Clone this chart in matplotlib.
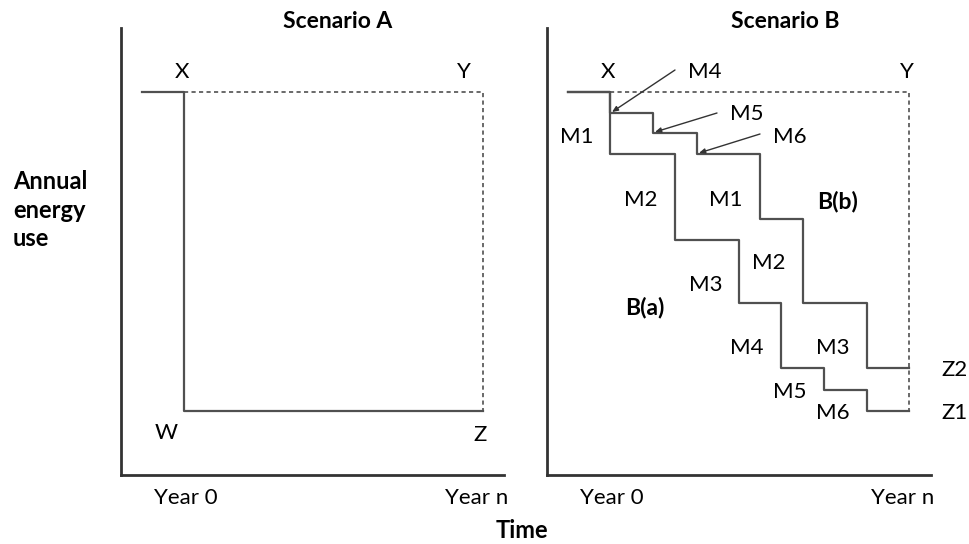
import matplotlib.pyplot as plt

plt.rcParams['font.family'] = ['Lato', 'DejaVu Sans']

# schematic units: time runs left to right, energy use bottom to top
year0 = 63
year_n = 362
pre_start = 21
baseline = 383

# scenario A: one deep retrofit at year 0
level_a = 64

# scenario B(a): all measures M1..M6 in sequence
steps_a_time = [pre_start, 63, 128, 192, 234, 277, 320, 362]
steps_a_energy = [383, 321, 235, 172, 107, 85, 64, 64]
labels_a = ["M1", "M2", "M3", "M4", "M5", "M6"]

# scenario B(b): small measures M4..M6 first, then M1..M3
steps_b_time = [pre_start, 63, 106, 150, 213, 256, 320, 362]
steps_b_energy = [383, 362, 342, 321, 256, 172, 107, 107]
labels_b = ["M4", "M5", "M6", "M1", "M2", "M3"]

line_col = "#505050"
axis_col = "#333333"
fs = 16
fs_bold = 16.5

fig = plt.figure(figsize=(9.7, 5.44), dpi=100)
axA = fig.add_axes([121 / 970, 69 / 544, 383 / 970, 447 / 544])
axB = fig.add_axes([547 / 970, 69 / 544, 384 / 970, 447 / 544])

for ax in (axA, axB):
    ax.set_xlim(0, ax is axA and 383 or 384)
    ax.set_ylim(0, 447)
    for s in ("top", "right"):
        ax.spines[s].set_visible(False)
    for s in ("left", "bottom"):
        ax.spines[s].set_color(axis_col)
        ax.spines[s].set_linewidth(2)
    ax.set_xticks([])
    ax.set_yticks([])
    ax.patch.set_alpha(0)
    ax.text(year0 + 2, -23, "Year 0", ha="center", va="center", fontsize=fs)
    ax.text(year_n - 6, -23, "Year n", ha="center", va="center", fontsize=fs)
    ax.text(year0 - 2, baseline + 20, "X", ha="center", va="center", fontsize=fs)
    # dashed reference: no intervention
    ax.plot([year0, year_n, year_n], [baseline, baseline, level_a], ls=(0, (2.5, 2)),
            color=line_col, lw=1.2)

# Scenario A
axA.plot([pre_start, year0, year0, year_n], [baseline, baseline, level_a, level_a],
         color=line_col, lw=1.6)
axA.text(year_n - 19, baseline + 20, "Y", ha="center", va="center", fontsize=fs)
axA.text(year0 - 18, level_a - 22, "W", ha="center", va="center", fontsize=fs)
axA.text(year_n - 3, level_a - 24, "Z", ha="center", va="center", fontsize=fs)

# Scenario B
axB.step(steps_a_time, steps_a_energy, where="post", color=line_col, lw=1.6)
axB.step(steps_b_time, steps_b_energy, where="post", color=line_col, lw=1.6)
axB.text(year_n - 2, baseline + 20, "Y", ha="center", va="center", fontsize=fs)
axB.text(year_n + 46, steps_b_energy[-1] - 2, "Z2", ha="center", va="center", fontsize=fs)
axB.text(year_n + 46, steps_a_energy[-1] - 2, "Z1", ha="center", va="center", fontsize=fs)

# B(a) measure labels
pos_a = [(30, 338), (94, 275), (159, 190), (200, 127), (243, 83), (286, 62)]
for lab, (x, y) in zip(labels_a, pos_a):
    axB.text(x, y, lab, ha="center", va="center", fontsize=fs)

# B(b) labels: first three via arrows
arrow_from = [(128, 405), (170, 362), (213, 341)]
arrow_txt = [(158, 403), (200, 361), (243, 338)]
for i in range(3):
    tx = steps_b_time[i + 1] + 2
    ty = steps_b_energy[i + 1] + 1
    axB.annotate("", xy=(tx, ty), xytext=arrow_from[i],
                 arrowprops=dict(arrowstyle="-|>,head_length=0.35,head_width=0.15",
                                 color="#333333", lw=1, shrinkA=0, shrinkB=0))
    axB.text(arrow_txt[i][0], arrow_txt[i][1], labels_b[i], ha="center", va="center", fontsize=fs)
pos_b = [(179, 275), (222, 212), (286, 127)]
for lab, (x, y) in zip(labels_b[3:], pos_b):
    axB.text(x, y, lab, ha="center", va="center", fontsize=fs)

axB.text(291, 273, "B(b)", ha="center", va="center", fontsize=fs_bold, fontweight="bold")
axB.text(98, 168, "B(a)", ha="center", va="center", fontsize=fs_bold, fontweight="bold")

fig.text(338 / 970, 1 - 22 / 544, "Scenario A", ha="center", va="center", fontsize=fs_bold, fontweight="bold")
fig.text(785 / 970, 1 - 22 / 544, "Scenario B", ha="center", va="center", fontsize=fs_bold, fontweight="bold")
fig.text(522 / 970, 1 - 531 / 544, "Time", ha="center", va="center", fontsize=17, fontweight="bold")
fig.text(13 / 970, 1 - 210 / 544, "Annual\nenergy\nuse", ha="left", va="center", fontsize=17,
         fontweight="bold", linespacing=1.3)

fig.savefig("out.png", dpi=100, facecolor="white")
